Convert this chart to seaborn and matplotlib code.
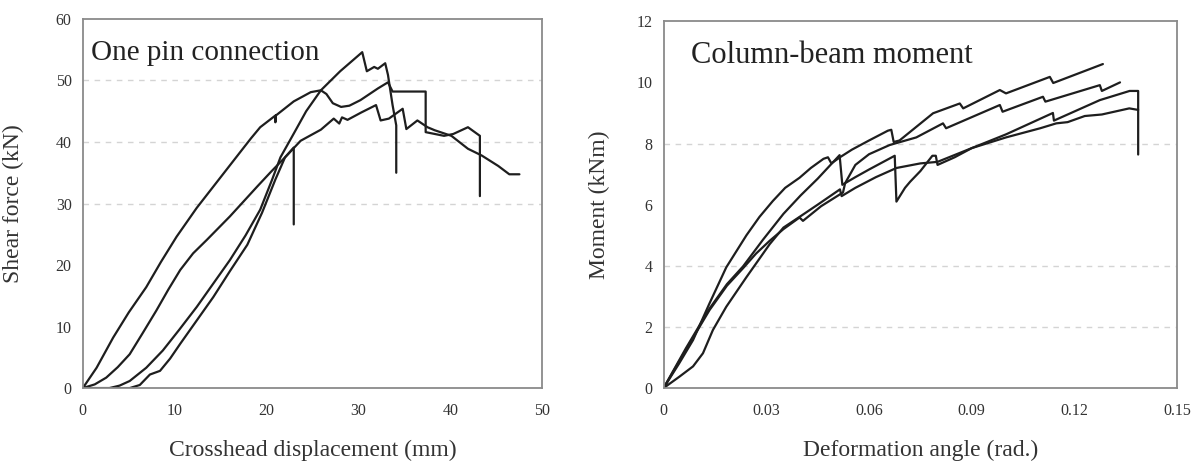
import matplotlib
matplotlib.use("Agg")
import matplotlib.pyplot as plt
import pandas as pd
import seaborn as sns

# ---- left panel: shear force vs crosshead displacement (4 specimens)
pin_x1 = [0, 1.5, 3.3, 5.0, 6.9, 8.5, 10.2, 12.4, 14.8, 17.2, 18.3, 19.3, 20.95, 20.95, 21.0, 22.95,
          24.8, 25.9, 26.5, 27.2, 28.1, 29.0, 30.2, 32.1, 33.2, 33.7, 37.3, 37.3, 38.3, 39.3, 40.3,
          41.9, 43.2, 43.2]
pin_y1 = [0, 3.3, 8.2, 12.3, 16.4, 20.5, 24.6, 29.3, 33.9, 38.5, 40.6, 42.4, 44.3, 43.2, 44.3, 46.6,
          48.1, 48.4, 47.8, 46.3, 45.7, 45.9, 46.8, 48.7, 49.7, 48.2, 48.2, 41.6, 41.3, 41.0, 41.3,
          42.4, 41.0, 31.2]
pin_x2 = [0, 2.9, 4.0, 5.1, 6.9, 8.7, 10.5, 12.4, 14.2, 16.0, 17.7, 19.3, 20.6, 21.5, 23.0, 24.3,
          25.9, 28.0, 30.4, 30.9, 31.7, 32.1, 32.9, 33.2, 33.7, 34.1, 34.1]
pin_y2 = [0, 0, 0.4, 1.15, 3.3, 6.1, 9.5, 13.2, 17.0, 20.8, 24.8, 29.0, 33.9, 37.5, 41.5, 45.0,
          48.4, 51.5, 54.6, 51.5, 52.2, 51.9, 52.8, 50.9, 46.0, 42.7, 35.0]
pin_x3 = [0, 1.3, 2.55, 3.8, 5.1, 6.5, 8.0, 9.3, 10.6, 12.0, 13.5, 16.0, 19.0, 20.5, 22.0, 23.7,
          25.9, 27.3, 27.9, 28.2, 28.8, 30.3, 31.9, 32.4, 33.3, 34.8, 35.2, 36.4, 37.5, 38.3, 40.1,
          41.9, 43.4, 45.2, 46.4, 47.5]
pin_y3 = [0, 0.6, 1.7, 3.4, 5.5, 8.9, 12.6, 16.0, 19.2, 21.9, 24.1, 27.9, 32.8, 35.2, 37.5, 40.2,
          42.0, 43.8, 43.0, 44.0, 43.6, 44.8, 46.0, 43.5, 43.8, 45.4, 42.1, 43.5, 42.4, 41.9, 41.0,
          38.9, 37.8, 36.1, 34.75, 34.75]
pin_x4 = [0, 5.1, 6.2, 7.3, 8.4, 9.5, 10.6, 12.4, 14.2, 16.0, 17.9, 19.5, 20.95, 22.0, 22.95, 22.95]
pin_y4 = [0, 0, 0.5, 2.2, 2.8, 4.8, 7.2, 11.0, 14.8, 19.0, 23.3, 28.5, 33.9, 37.5, 39.1, 26.6]

# ---- right panel: moment vs deformation angle (4 specimens)
mom_x1 = [0, 0.0045, 0.0086, 0.0134, 0.0183, 0.0242, 0.028, 0.0319, 0.0355, 0.0397, 0.043, 0.0467,
          0.048, 0.049, 0.0515, 0.055, 0.060, 0.0655, 0.0665, 0.0672, 0.0689, 0.0787, 0.0865,
          0.0875, 0.0982, 0.1000, 0.1128, 0.1138, 0.1283]
mom_y1 = [0, 0.8, 1.57, 2.77, 3.95, 5.0, 5.6, 6.12, 6.55, 6.88, 7.2, 7.5,
          7.55, 7.35, 7.55, 7.8, 8.1, 8.42, 8.45, 8.05, 8.1, 8.99, 9.31,
          9.15, 9.75, 9.64, 10.18, 9.98, 10.6]
mom_x2 = [0, 0.0065, 0.0134, 0.0185, 0.0232, 0.029, 0.035, 0.040, 0.045, 0.0514, 0.0522, 0.056,
          0.060, 0.0675, 0.068, 0.0705, 0.072, 0.075, 0.0785, 0.0795, 0.080, 0.085, 0.090, 0.100,
          0.1137, 0.114, 0.120, 0.1274, 0.1361, 0.1386, 0.1386]
mom_y2 = [0, 1.3, 2.6, 3.4, 3.98, 4.85, 5.7, 6.3, 6.85, 7.62, 6.65, 6.9,
          7.15, 7.6, 6.1, 6.55, 6.75, 7.1, 7.6, 7.6, 7.3, 7.55, 7.85, 8.3,
          9.0, 8.75, 9.05, 9.42, 9.72, 9.72, 7.64]
mom_x3 = [0, 0.0065, 0.0134, 0.0185, 0.0232, 0.027, 0.031, 0.035, 0.0397, 0.0407, 0.046, 0.0524,
          0.053, 0.056, 0.060, 0.066, 0.0738, 0.0816, 0.0825, 0.0982, 0.099, 0.1108, 0.1115,
          0.1274, 0.128, 0.1333]
mom_y3 = [0, 1.25, 2.55, 3.35, 3.92, 4.4, 4.82, 5.2, 5.58, 5.47, 5.95, 6.4,
          6.7, 7.3, 7.65, 7.95, 8.2, 8.66, 8.5, 9.26, 9.04, 9.53, 9.37,
          9.91, 9.72, 10.0]
mom_x4 = [0, 0.0047, 0.0086, 0.0115, 0.0144, 0.0183, 0.0242, 0.031, 0.035, 0.0397, 0.045, 0.0515,
          0.052, 0.056, 0.062, 0.068, 0.075, 0.080, 0.090, 0.100, 0.105, 0.110, 0.1147, 0.118,
          0.123, 0.128, 0.132, 0.136, 0.1386]
mom_y4 = [0, 0.38, 0.71, 1.14, 1.9, 2.66, 3.63, 4.71, 5.25, 5.6, 6.0, 6.5,
          6.28, 6.55, 6.9, 7.2, 7.35, 7.4, 7.85, 8.2, 8.35, 8.5, 8.66, 8.7,
          8.9, 8.95, 9.05, 9.15, 9.1]


def to_long(curves, xname, yname):
    parts = []
    for i, (xs, ys) in enumerate(curves):
        parts.append(pd.DataFrame({xname: xs, yname: ys, "specimen": i}))
    return pd.concat(parts, ignore_index=True)


pin = to_long([(pin_x1, pin_y1), (pin_x2, pin_y2), (pin_x3, pin_y3), (pin_x4, pin_y4)], "disp", "force")
mom = to_long([(mom_x1, mom_y1), (mom_x2, mom_y2), (mom_x3, mom_y3), (mom_x4, mom_y4)], "angle", "moment")

sns.set_style("white")
plt.rcParams["font.family"] = ["Liberation Serif", "DejaVu Serif"]

fig = plt.figure(figsize=(12, 4.62), dpi=100)
ax1 = fig.add_axes([0.069, 0.160, 0.383, 0.799])
ax2 = fig.add_axes([0.553, 0.160, 0.428, 0.794])

line_kw = dict(units="specimen", estimator=None, sort=False, color="#1e1e1e", linewidth=1.6, legend=False)
sns.lineplot(data=pin, x="disp", y="force", ax=ax1, **line_kw)
sns.lineplot(data=mom, x="angle", y="moment", ax=ax2, **line_kw)

ax1.set_xlim(0, 50)
ax1.set_ylim(0, 60)
ax1.set_xticks(range(0, 51, 10))
ax1.set_yticks(range(0, 61, 10))
for g in [30, 40, 50]:
    ax1.axhline(g, color="#d4d4d4", lw=1, ls=(0, (4, 4)), zorder=0)

ax2.set_xlim(0, 0.15)
ax2.set_ylim(0, 12)
ax2.set_xticks([0, 0.03, 0.06, 0.09, 0.12, 0.15])
ax2.set_xticklabels(["0", "0.03", "0.06", "0.09", "0.12", "0.15"])
ax2.set_yticks(range(0, 13, 2))
for g in [2, 4, 8]:
    ax2.axhline(g, color="#d4d4d4", lw=1, ls=(0, (4, 4)), zorder=0)

for ax in (ax1, ax2):
    for s in ax.spines.values():
        s.set_color("#8a8a8a")
        s.set_linewidth(1.3)
    ax.tick_params(direction="in", length=3, color="#aaaaaa", labelsize=11.5, labelcolor="#333333")
    ax.tick_params(axis="x", pad=11)
    ax.tick_params(axis="y", pad=8)

ax1.set_xlabel("Crosshead displacement (mm)", fontsize=17, color="#333333")
ax1.set_ylabel("Shear force (kN)", fontsize=17, color="#333333")
ax1.xaxis.set_label_coords(0.5, -0.14)
ax1.yaxis.set_label_coords(-0.128, 0.5)
ax1.text(0.017, 0.889, "One pin connection", transform=ax1.transAxes, fontsize=21, color="#222222")

ax2.set_xlabel("Deformation angle (rad.)", fontsize=17, color="#333333")
ax2.set_ylabel("Moment (kNm)", fontsize=17, color="#333333")
ax2.xaxis.set_label_coords(0.5, -0.14)
ax2.yaxis.set_label_coords(-0.105, 0.5)
ax2.text(0.053, 0.886, "Column-beam moment", transform=ax2.transAxes, fontsize=22, color="#222222")

plt.savefig("out.png", dpi=100)
